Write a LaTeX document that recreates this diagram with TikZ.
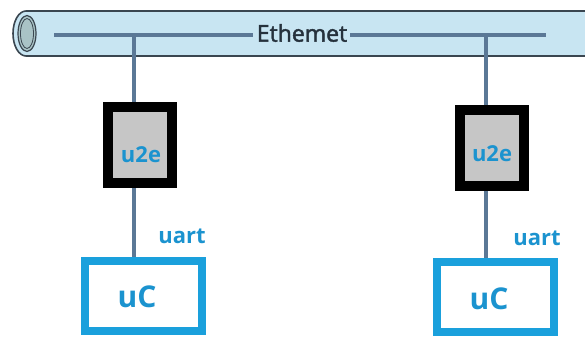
\documentclass[tikz,border=0pt]{standalone}
\usepackage{fontspec}
\setmainfont{Open Sans}
\newfontfamily\ethfont[FakeBold=1.8]{Open Sans}
\definecolor{pipefill}{HTML}{C8E5F2}
\definecolor{pipeedge}{HTML}{3A4650}
\definecolor{capfill}{HTML}{A9C3C6}
\definecolor{wire}{HTML}{5B7896}
\definecolor{ucblue}{HTML}{1AA0DC}
\definecolor{txtblue}{HTML}{1B93CF}
\definecolor{ethtxt}{HTML}{25313C}
\definecolor{u2egray}{HTML}{C6C6C6}
\tikzset{
  wireline/.style={draw=wire,line width=4pt},
  u2ebox/.style={draw=black,line width=10pt,fill=u2egray,minimum width=64pt,minimum height=76pt,inner sep=0pt},
  ucbox/.style={draw=ucblue,line width=8pt,fill=white,minimum width=117pt,minimum height=70pt,inner sep=0pt},
  bluelbl/.style={text=txtblue,font=\fontsize{22}{24}\selectfont\bfseries,inner sep=0pt},
  uclbl/.style={text=txtblue,font=\fontsize{30}{32}\selectfont\bfseries,inner sep=0pt},
}
\begin{document}
\begin{tikzpicture}[x=1pt,y=-1pt]
\useasboundingbox (0,0) rectangle (585,337);
% pipe
\draw[pipeedge,line width=1.6pt,fill=pipefill] (590,11) -- (26,11) arc[start angle=270,end angle=90,x radius=13,y radius=22.5] -- (590,56);
\draw[pipeedge,line width=1.2pt,fill=capfill] (27,33.5) ellipse[x radius=9,y radius=18];
\draw[pipeedge,line width=0.8pt] (27,33.5) ellipse[x radius=6.5,y radius=15];
% ethernet line
\node[text=ethtxt,font=\fontsize{23}{25}\ethfont,inner sep=0pt] (eth) at (302,33) {Ethemet};
\coordinate (ethL) at (54,35);
\coordinate (ethR) at (546,35);
\coordinate (tap1) at (134,35);
\coordinate (tap2) at (486,35);
\draw[wireline] (ethL) -- ([xshift=-4pt]eth.west |- ethL);
\draw[wireline] ([xshift=3pt]eth.east |- ethR) -- (ethR);
% boxes
\node[ucbox] (uc1) at (143.5,296) {};
\node[ucbox] (uc2) at (495.5,297) {};
\draw[wireline] (tap1) -- (tap1 |- uc1.north);
\draw[wireline] (tap2) -- (tap2 |- uc2.north);
\node[u2ebox] (g1) at (140,145) {};
\node[u2ebox] (g2) at (491.5,147.5) {};
\node[bluelbl] (g1t) at (141,155) {u2e};
\node[bluelbl] (g2t) at (492,154) {u2e};
\node[bluelbl] (ua1) at (182,236) {uart};
\node[bluelbl] (ua2) at (537,238) {uart};
\node[uclbl] (uc1t) at (137,297) {uC};
\node[uclbl] (uc2t) at (489,299) {uC};
\end{tikzpicture}
\end{document}
